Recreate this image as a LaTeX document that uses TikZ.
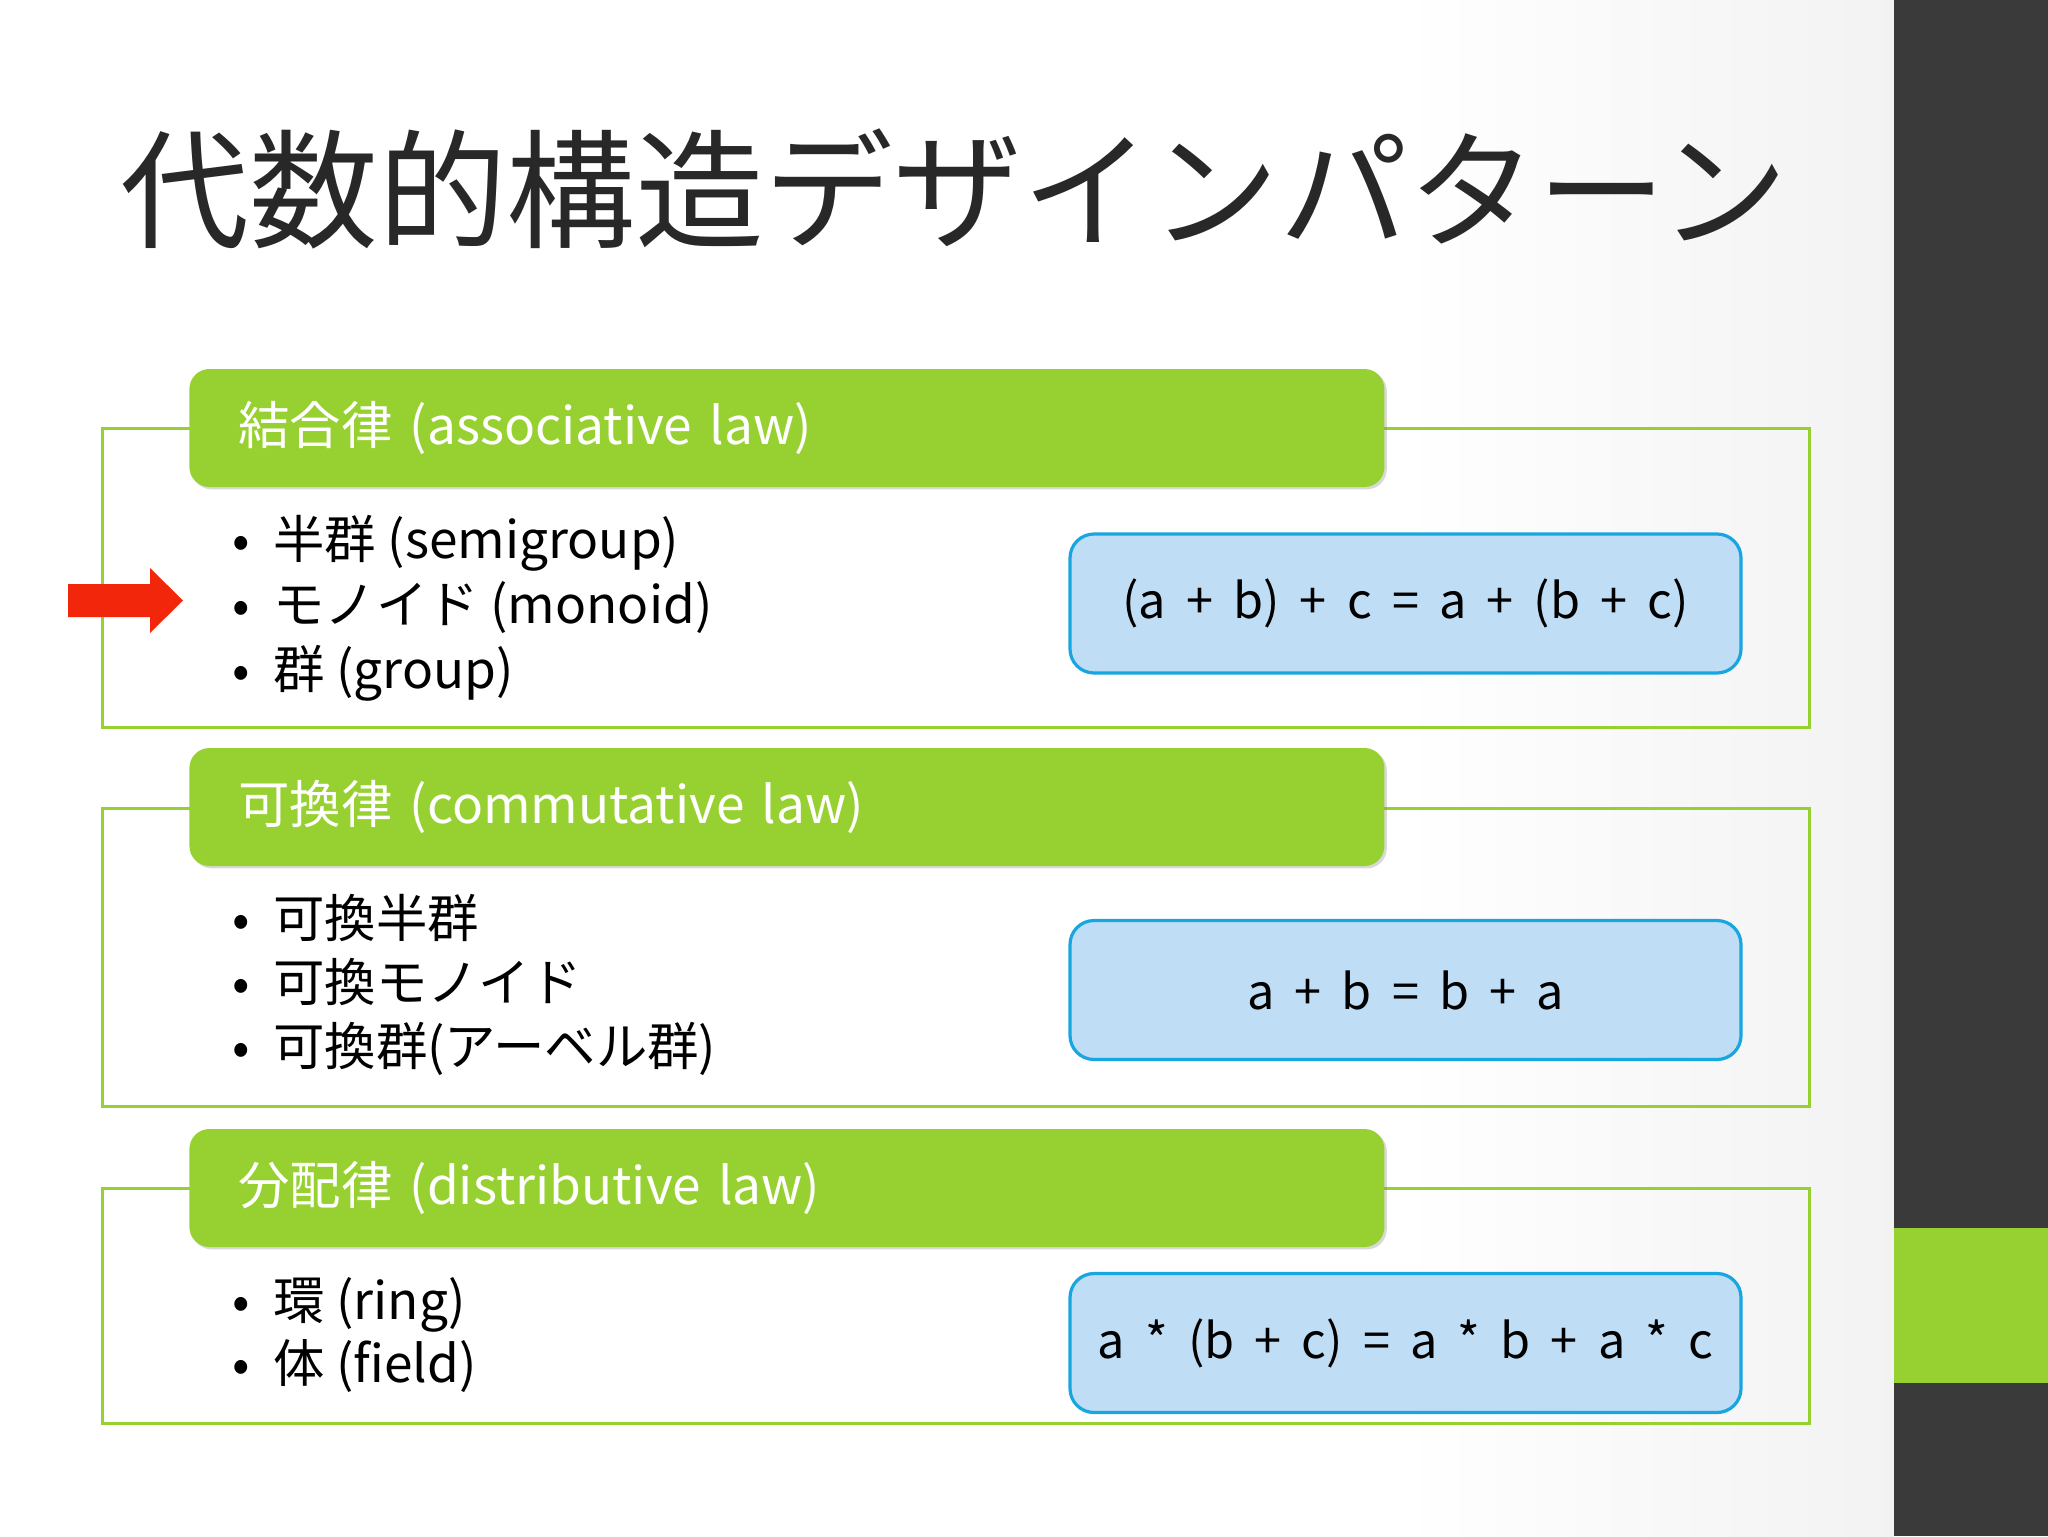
\documentclass[tikz,border=0pt]{standalone}
\usepackage{fontspec}
\setmainfont{Noto Sans CJK JP}
\newfontfamily\eqfont[WordSpace=1.85]{Noto Sans CJK JP}
\usepackage{tikz}
\definecolor{lawgreen}{RGB}{151,209,49}
\definecolor{boxblue}{RGB}{191,221,245}
\definecolor{boxedge}{RGB}{24,166,224}
\definecolor{sidebar}{RGB}{58,58,58}
\definecolor{titlegray}{RGB}{40,40,40}
\definecolor{arrowred}{RGB}{242,38,10}
\usetikzlibrary{shadows}

\begin{document}
\begin{tikzpicture}[x=0.5pt, y=-0.5pt,
    lawframe/.style={draw=lawgreen, line width=1.5pt},
    lawhead/.style={fill=lawgreen, rounded corners=10pt, text=white, align=left,
        font=\fontsize{25.7}{30}\selectfont, text width=548.5pt, inner xsep=24.5pt,
        minimum height=59pt, anchor=west,
        drop shadow={shadow xshift=1.2pt, shadow yshift=-1.2pt, opacity=0.3}},
    formula/.style={fill=boxblue, draw=boxedge, line width=1.6pt, rounded corners=12pt,
        minimum width=335.5pt, minimum height=69.5pt, font=\eqfont\fontsize{24.3}{28}\selectfont},
    item/.style={anchor=base west, inner sep=0pt, font=\fontsize{25.7}{30}\selectfont}]
    \useasboundingbox (0,0) rectangle (2048,1536);
    % Nền và thanh bên phải
    \fill[white] (0,0) rectangle (1894,1536);
    \shade[left color=white, right color=black!5] (1400,0) rectangle (1894,1536);
    \fill[sidebar] (1894,0) rectangle (2048,1536);
    \fill[lawgreen] (1894,1228) rectangle (2048,1383);
    % Tiêu đề
    \node[anchor=base west, inner sep=0pt, text=titlegray, font=\fontsize{64.4}{70}\selectfont] (title) at (120,238) {代数的構造デザインパターン};
    % 結合律
    \draw[lawframe] (102,428) rectangle (1809,727);
    \node[lawhead] (assoc) at (189,428) {結合律 (associative law)};
    \node[item] (semigroup) at (232,558) {\makebox[20.5pt][l]{•}半群 (semigroup)};
    \node[item] (monoid) at (232,623) {\makebox[20.5pt][l]{•}モノイド (monoid)};
    \node[item] (group) at (232,688) {\makebox[20.5pt][l]{•}群 (group)};
    \node[formula] (assoceq) at (1405.5,603.5) {(a + b) + c = a + (b + c)};
    \fill[arrowred] (68,584) -- (150,584) -- (150,568) -- (183,600.5) -- (150,633) -- (150,617) -- (68,617) -- cycle;
    % 可換律
    \draw[lawframe] (102,808) rectangle (1809,1106);
    \node[lawhead] (commut) at (189,807) {可換律 (commutative law)};
    \node[item] (csemigroup) at (232,937) {\makebox[20.5pt][l]{•}可換半群};
    \node[item] (cmonoid) at (232,1001) {\makebox[20.5pt][l]{•}可換モノイド};
    \node[item] (cgroup) at (232,1065) {\makebox[20.5pt][l]{•}可換群(アーベル群)};
    \node[formula] (commuteq) at (1405.5,990) {a + b = b + a};
    % 分配律
    \draw[lawframe] (102,1188) rectangle (1809,1423);
    \node[lawhead] (distrib) at (189,1188) {分配律 (distributive law)};
    \node[item] (ring) at (232,1319) {\makebox[20.5pt][l]{•}環 (ring)};
    \node[item] (field) at (232,1382) {\makebox[20.5pt][l]{•}体 (field)};
    \node[formula] (distribeq) at (1405.5,1343) {a * (b + c) = a * b + a * c};
\end{tikzpicture}
\end{document}
